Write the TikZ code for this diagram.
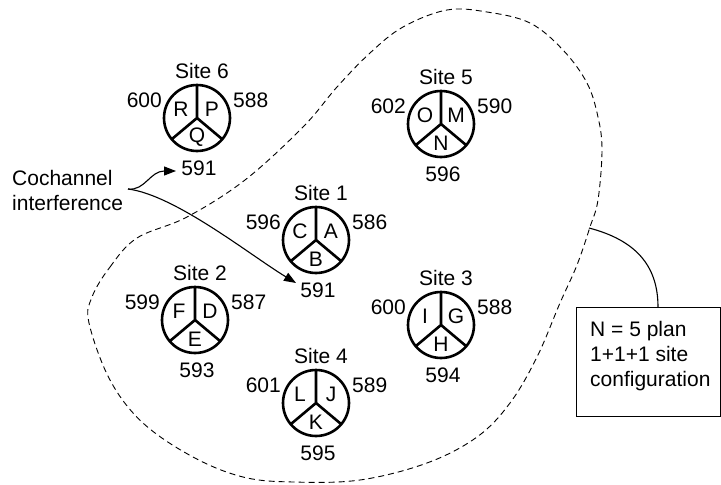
\documentclass[tikz,border=0pt]{standalone}
\usepackage{fontspec}
\setmainfont{Liberation Sans}
\usetikzlibrary{arrows.meta}
\begin{document}
\begin{tikzpicture}[x=1pt,y=-1pt,
  every node/.style={font=\fontsize{21}{25}\selectfont, inner sep=0pt},
  sitecirc/.style={circle, draw, line width=2.6pt, minimum size=66pt, inner sep=0pt, outer sep=0pt},
  spoke/.style={line width=2.6pt},
  boundary/.style={dash pattern=on 6pt off 4pt, line width=0.9pt},
  pointer/.style={line width=1.1pt, -{Triangle[length=12pt,width=9pt]}},
  callout/.style={line width=1.1pt},
  notebox/.style={draw, line width=1.1pt, minimum width=144pt, minimum height=109pt, anchor=north west}]
\useasboundingbox (0,0) rectangle (721,485);
% coverage boundary
\draw[boundary] plot[smooth cycle, tension=0.6] coordinates {
 (92,297) (110,267) (137,238) (187,217) (245,180) (303,127) (337,87) (370,53)
 (403,27) (447,10) (487,12) (530,23) (563,50) (587,83) (598,117) (602,150)
 (598,200) (590,227) (577,265) (560,303) (537,357) (510,403) (477,437) (427,463)
 (360,480) (293,482) (243,477) (193,457) (143,423) (110,380) (89,323)};
% sites
\foreach \n/\x/\y/\t/\a/\b/\c/\l/\r/\d in {
  s6/197/118/Site 6/R/P/Q/600/588/591,
  s5/441/124/Site 5/O/M/N/602/590/596,
  s1/316/240/Site 1/C/A/B/596/586/591,
  s2/195/320/Site 2/F/D/E/599/587/593,
  s3/441/325/Site 3/I/G/H/600/588/594,
  s4/316/403/Site 4/L/J/K/601/589/595}{
  \node[sitecirc] (\n) at (\x,\y) {};
  \draw[spoke] (\n.north) -- (\n.center) -- (\n.-140);
  \draw[spoke] (\n.center) -- (\n.-40);
  \node (\n a) at ([shift={(-16,-9)}]\n.center) {\a};
  \node (\n b) at ([shift={(15,-9)}]\n.center) {\b};
  \node (\n c) at ([shift={(0,19)}]\n.center) {\c};
  \node (\n t) at ([shift={(5,-47)}]\n.center) {\t};
  \node[anchor=east] (\n l) at ([shift={(-35,-18)}]\n.center) {\l};
  \node[anchor=west] (\n r) at ([shift={(36,-18)}]\n.center) {\r};
  \node (\n d) at ([shift={(2,50)}]\n.center) {\d};
}
% cochannel interference
\node[anchor=west, align=left] (coch) at (12,190) {Cochannel\\interference};
\coordinate (src) at (128,189);
\coordinate (tip6) at (176,171);
\coordinate (tip1) at (296,283);
\draw[pointer] (src) .. controls (145,191) and (150,171) .. (tip6);
\draw[pointer] (src) .. controls (175,195) and (250,255) .. (tip1);
% note box
\node[notebox] (box) at (576,307) {};
\node[anchor=west, align=left] (note) at (590,356) {N = 5 plan\\1+1+1 site\\configuration};
\coordinate (bpt) at (589,228);
\draw[callout] (bpt) .. controls (635,240) and (658,265) .. (box.north -| 658,0);
\end{tikzpicture}
\end{document}
